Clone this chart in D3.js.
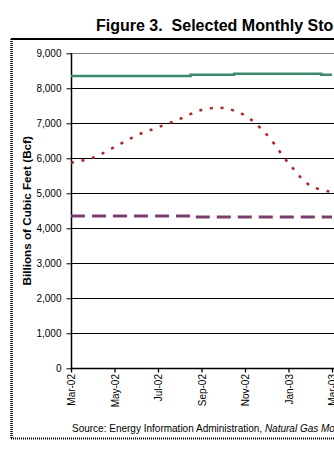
<!DOCTYPE html>
<html>
<head>
<meta charset="utf-8">
<script src="https://cdn.jsdelivr.net/npm/d3@7"></script>
<style>
  html, body { margin: 0; padding: 0; background: #fff; overflow: hidden; }
  svg { display: block; font-family: "Liberation Sans", Arial, sans-serif; }
</style>
</head>
<body>
<div id="chart"></div>
<script>
// ---- Data (Billions of Cubic Feet) ----
const months = ["Mar-02","Apr-02","May-02","Jun-02","Jul-02","Aug-02","Sep-02","Oct-02","Nov-02","Dec-02","Jan-03","Feb-03","Mar-03"];
const capacity   = [8350, 8350, 8350, 8350, 8350, 8350, 8385, 8385, 8415, 8415, 8415, 8415, 8385];
const totalGas   = [5870, 6015, 6320, 6650, 6885, 7120, 7380, 7435, 7225, 6675, 5865, 5220, 5040];
const baseGas    = [4355, 4355, 4355, 4355, 4355, 4355, 4320, 4320, 4320, 4320, 4320, 4320, 4320];
const yTicks     = [0, 1000, 2000, 3000, 4000, 5000, 6000, 7000, 8000, 9000];
const xTickLabels = ["Mar-02","May-02","Jul-02","Sep-02","Nov-02","Jan-03","Mar-03"];

const W = 334, H = 463;
const plot = { left: 71, top: 53.3, bottom: 368.3, right: 420 };

const svg = d3.select("#chart").append("svg")
  .attr("width", W).attr("height", H);

const x = d3.scaleLinear().domain([0, 12]).range([plot.left, 332]);
const y = d3.scaleLinear().domain([0, 9000]).range([plot.bottom, plot.top]);

// Outer frame
svg.append("line").attr("x1", 11).attr("x2", W + 5).attr("y1", 39).attr("y2", 39)
  .attr("stroke", "#000").attr("stroke-width", 2);
svg.append("line").attr("x1", 11.5).attr("x2", 11.5).attr("y1", 39).attr("y2", 439)
  .attr("stroke", "#000").attr("stroke-width", 2.5).attr("stroke-dasharray", "1,1");
svg.append("line").attr("x1", 11).attr("x2", W + 5).attr("y1", 438.5).attr("y2", 438.5)
  .attr("stroke", "#000").attr("stroke-width", 2).attr("stroke-dasharray", "1,1");

// Title
svg.append("text").attr("x", 96).attr("y", 31)
  .attr("font-size", 16).attr("font-weight", "bold")
  .style("white-space", "pre")
  .text("Figure 3.  Selected Monthly Storage Data");

// Gridlines
svg.append("g").selectAll("line").data(yTicks.filter(d => d > 0 && d < 9000)).join("line")
  .attr("x1", plot.left).attr("x2", plot.right)
  .attr("y1", d => Math.round(y(d)) + 0.5).attr("y2", d => Math.round(y(d)) + 0.5)
  .attr("stroke", "#000").attr("stroke-width", 1);
// top plot border (grey)
svg.append("line").attr("x1", plot.left).attr("x2", plot.right)
  .attr("y1", Math.round(y(9000)) + 0.5).attr("y2", Math.round(y(9000)) + 0.5)
  .attr("stroke", "#808080").attr("stroke-width", 1);

// Y axis
const yAxis = d3.axisLeft(y).tickValues(yTicks).tickSize(5).tickPadding(5)
  .tickFormat(d3.format(","));
const gy = svg.append("g").attr("transform", `translate(${plot.left + 0.5},0)`).call(yAxis);
gy.selectAll("text").attr("font-size", 10).attr("font-family", "Liberation Sans, Arial, sans-serif").attr("fill", "#000");
gy.selectAll("line, path").attr("stroke", "#000");
gy.select(".domain").remove();
svg.append("line").attr("x1", plot.left + 0.5).attr("x2", plot.left + 0.5)
  .attr("y1", y(9000)).attr("y2", plot.bottom + 1).attr("stroke", "#000").attr("stroke-width", 1.5);

// X axis
const tickIdx = xTickLabels.map(l => months.indexOf(l));
const xAxis = d3.axisBottom(x).tickValues(tickIdx).tickSize(4).tickFormat(i => months[i]);
const gx = svg.append("g").attr("transform", `translate(0,${Math.round(plot.bottom) + 0.5})`).call(xAxis);
gx.select(".domain").remove();
gx.selectAll("line").attr("stroke", "#000").attr("stroke-width", 1.3);
gx.selectAll("text")
  .attr("font-size", 10).attr("font-family", "Liberation Sans, Arial, sans-serif").attr("fill", "#000")
  .attr("text-anchor", "end")
  .attr("transform", "rotate(-90)")
  .attr("x", -5.5).attr("y", 0).attr("dy", "0.35em");
svg.append("line").attr("x1", plot.left).attr("x2", plot.right)
  .attr("y1", Math.round(plot.bottom) + 0.5).attr("y2", Math.round(plot.bottom) + 0.5)
  .attr("stroke", "#000").attr("stroke-width", 1.5);

// Y axis title
svg.append("text")
  .attr("transform", `translate(31,${(plot.top + plot.bottom) / 2}) rotate(-90)`)
  .attr("text-anchor", "middle").attr("font-size", 11.7).attr("font-weight", "bold")
  .text("Billions of Cubic Feet (Bcf)");

// Series
const idx = d3.range(months.length);

svg.append("path").datum(idx)
  .attr("d", d3.line().x(i => x(i)).y(i => y(capacity[i])).curve(d3.curveStep)(idx))
  .attr("fill", "none").attr("stroke", "#3c8a6a").attr("stroke-width", 2.5);

svg.append("path").datum(idx)
  .attr("d", d3.line().x(i => x(i)).y(i => y(baseGas[i])).curve(d3.curveStep)(idx))
  .attr("fill", "none").attr("stroke", "#7a3f6e").attr("stroke-width", 3)
  .attr("stroke-dasharray", "14,7");

svg.append("path").datum(idx)
  .attr("d", d3.line().x(i => x(i)).y(i => y(totalGas[i])).curve(d3.curveCatmullRom.alpha(0.5))(idx))
  .attr("fill", "none").attr("stroke", "#b22222").attr("stroke-width", 2.5)
  .attr("stroke-dasharray", "3,7.7");

// Source
const src = svg.append("text").attr("x", 72).attr("y", 432).attr("font-size", 10);
src.append("tspan").text("Source: Energy Information Administration, ");
src.append("tspan").attr("font-style", "italic").text("Natural Gas Monthly");
</script>
</body>
</html>
